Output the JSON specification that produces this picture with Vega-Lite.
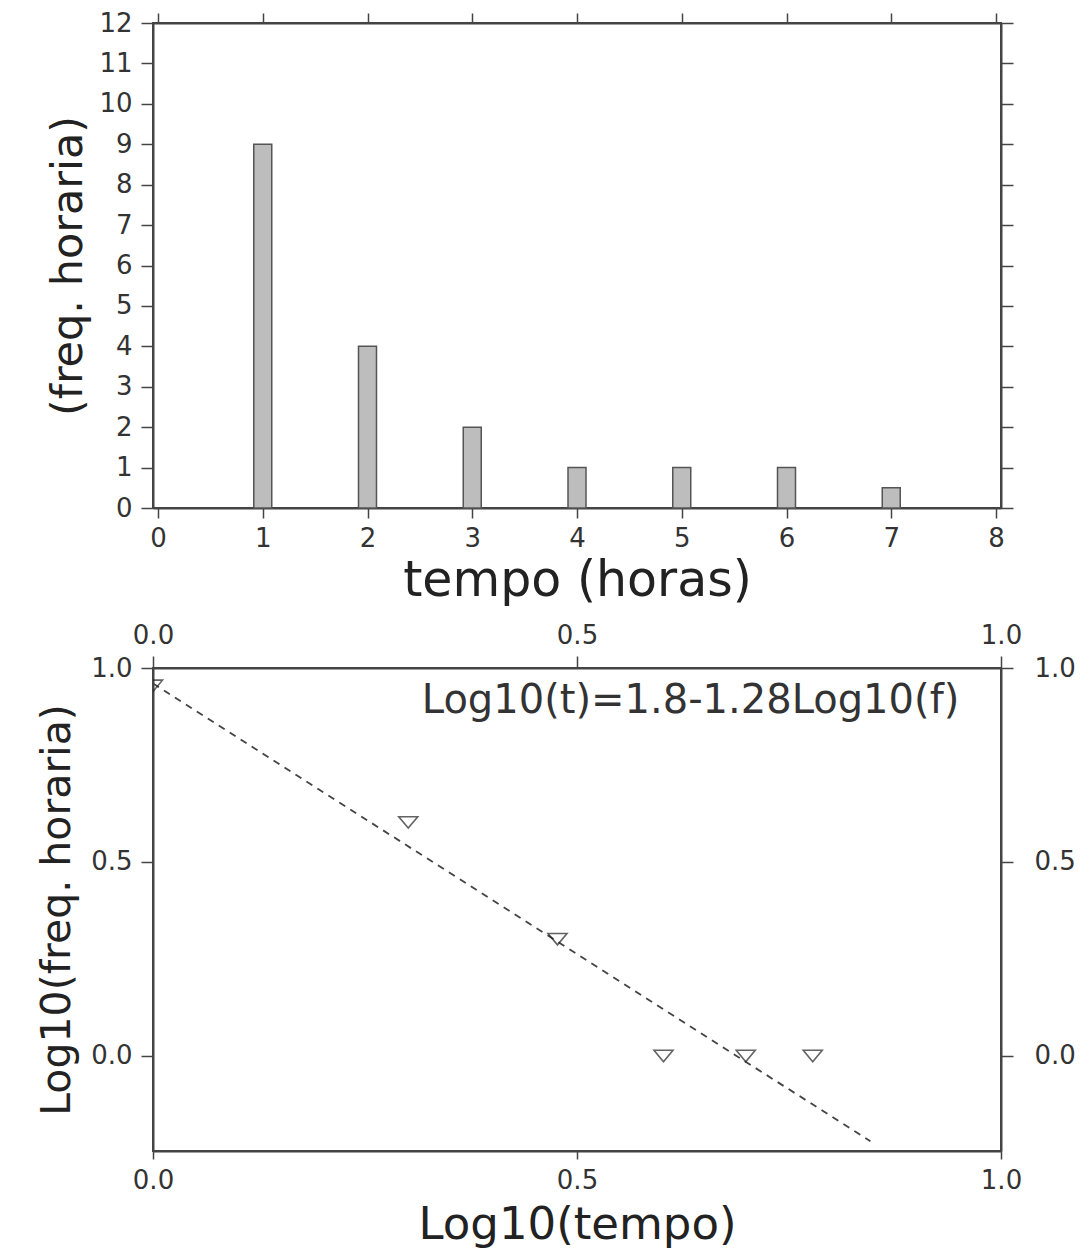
{
  "$schema": "https://vega.github.io/schema/vega-lite/v6.json",
  "background": "white",
  "padding": {"left": 35, "top": 9, "right": 0, "bottom": 0},
  "bounds": "flush",
  "spacing": 160,
  "datasets": {
    "bars": [
      {"t": 1, "f": 9}, {"t": 2, "f": 4}, {"t": 3, "f": 2}, {"t": 4, "f": 1},
      {"t": 5, "f": 1}, {"t": 6, "f": 1}, {"t": 7, "f": 0.5}
    ],
    "pts": [
      {"lt": 0, "lf": 0.954}, {"lt": 0.301, "lf": 0.602}, {"lt": 0.477, "lf": 0.301},
      {"lt": 0.602, "lf": 0}, {"lt": 0.699, "lf": 0}, {"lt": 0.778, "lf": 0}
    ],
    "fit": [{"lt": 0, "lf": 0.96}, {"lt": 0.846, "lf": -0.22}],
    "eq": [{"lt": 0.317, "lf": 0.915, "label": "Log10(t)=1.8-1.28Log10(f)"}]
  },
  "config": {
    "font": "DejaVu Sans",
    "view": {"stroke": "#444", "strokeWidth": 2},
    "axis": {
      "grid": false, "domainColor": "#444", "domainWidth": 2,
      "tickColor": "#444", "tickWidth": 1.5, "tickSize": 12,
      "labelFont": "DejaVu Sans", "labelFontSize": 26, "labelColor": "#333",
      "labelFlush": false, "labelOverlap": false,
      "titleFont": "DejaVu Sans", "titleFontWeight": "normal", "titleColor": "#222",
      "labelPadding": 9
    }
  },
  "vconcat": [
    {
      "width": 848, "height": 485,
      "data": {"name": "bars"},
      "layer": [
        {
          "mark": {"type": "bar", "width": 18, "fill": "#bdbdbd", "stroke": "#555", "strokeWidth": 1.5},
          "encoding": {
            "x": {"field": "t", "type": "quantitative", "scale": {"domain": [0, 8], "nice": false},
              "axis": {"orient": "bottom", "values": [0,1,2,3,4,5,6,7,8], "title": "tempo (horas)", "titleFontSize": 49, "titlePadding": 5, "tickSize": 10, "labelPadding": 7}},
            "y": {"field": "f", "type": "quantitative", "scale": {"domain": [0, 12], "nice": false},
              "axis": {"orient": "left", "values": [0,1,2,3,4,5,6,7,8,9,10,11,12], "title": "(freq. horaria)", "titleFontSize": 43, "titlePadding": 8}}
          }
        },
        {
          "mark": {"type": "point", "opacity": 0},
          "encoding": {
            "x": {"field": "t", "type": "quantitative", "scale": {"domain": [0, 8], "nice": false},
              "axis": {"orient": "top", "values": [0,1,2,3,4,5,6,7,8], "labels": false, "title": null, "tickSize": 10}},
            "y": {"field": "f", "type": "quantitative", "scale": {"domain": [0, 12], "nice": false},
              "axis": {"orient": "right", "values": [0,1,2,3,4,5,6,7,8,9,10,11,12], "labels": false, "title": null}}
          }
        }
      ],
      "resolve": {"axis": {"x": "independent", "y": "independent"}}
    },
    {
      "width": 848, "height": 483,
      "layer": [
        {
          "data": {"name": "fit"},
          "mark": {"type": "line", "stroke": "#444", "strokeWidth": 1.8, "strokeDash": [7, 6], "clip": true},
          "encoding": {
            "x": {"field": "lt", "type": "quantitative", "scale": {"domain": [0, 1], "nice": false},
              "axis": {"orient": "bottom", "values": [0, 0.5, 1], "format": ".1f", "title": "Log10(tempo)", "titleFontSize": 45, "titlePadding": 9, "tickSize": 8, "labelPadding": 8}},
            "y": {"field": "lf", "type": "quantitative", "scale": {"domain": [-0.245, 1], "nice": false, "zero": false},
              "axis": {"orient": "left", "values": [0, 0.5, 1], "format": ".1f", "title": "Log10(freq. horaria)", "titleFontSize": 41, "titlePadding": 12}}
          }
        },
        {
          "data": {"name": "pts"},
          "mark": {"type": "point", "shape": "M-1,-0.6L1,-0.6L0,0.6Z", "size": 361, "filled": false, "color": "#222", "strokeWidth": 1.6, "clip": true},
          "encoding": {
            "x": {"field": "lt", "type": "quantitative", "scale": {"domain": [0, 1], "nice": false},
              "axis": {"orient": "top", "values": [0, 0.5, 1], "format": ".1f", "title": null, "labelPadding": 8}},
            "y": {"field": "lf", "type": "quantitative", "scale": {"domain": [-0.245, 1], "nice": false, "zero": false},
              "axis": {"orient": "right", "values": [0, 0.5, 1], "format": ".1f", "title": null, "labelPadding": 21}}
          }
        },
        {
          "data": {"name": "eq"},
          "mark": {"type": "text", "align": "left", "baseline": "middle", "fontSize": 40, "color": "#333", "font": "DejaVu Sans"},
          "encoding": {
            "x": {"field": "lt", "type": "quantitative", "scale": {"domain": [0, 1], "nice": false}, "axis": null},
            "y": {"field": "lf", "type": "quantitative", "scale": {"domain": [-0.245, 1], "nice": false, "zero": false}, "axis": null},
            "text": {"field": "label"}
          }
        }
      ],
      "resolve": {"axis": {"x": "independent", "y": "independent"}}
    }
  ]
}
